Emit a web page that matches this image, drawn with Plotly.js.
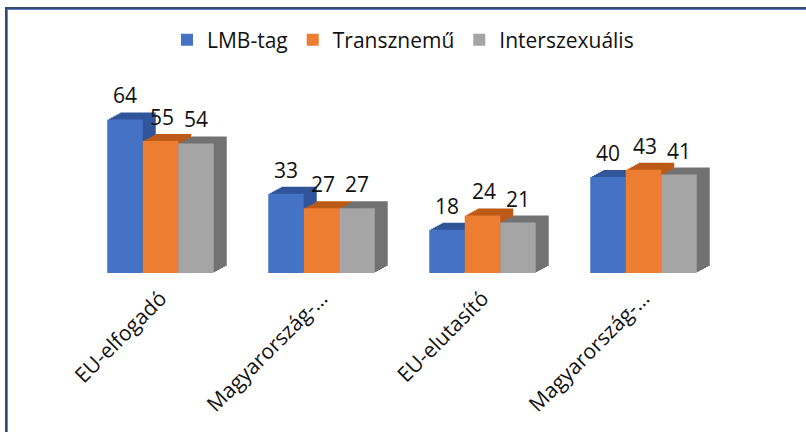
<!DOCTYPE html>
<html>
<head>
<meta charset="utf-8">
<script src="https://cdn.plot.ly/plotly-3.0.1.min.js"></script>
<style>
  html, body { margin: 0; padding: 0; background: #fff; }
  #frame { position: absolute; left: 5px; top: 7px; width: 801px; height: 425px;
           border-top: 2px solid #34496b; border-left: 2px solid #34496b; }
  #inner { position: absolute; left: 0; top: 0; right: 0; bottom: 0;
           border-top: 1px solid #5b86d6; border-left: 1px solid #5b86d6; }
  #chart { position: absolute; left: 0; top: 0; width: 806px; height: 432px; }
</style>
</head>
<body>
<div id="chart"></div>
<div id="frame"><div id="inner"></div></div>
<script>
// ---- data ----
const categories = ["EU-elfogadó", "Magyarország-…", "EU-elutasító", "Magyarország-…"];
const categoryKeys = ["c1", "c2", "c3", "c4"];
const seriesNames = ["LMB-tag", "Transznemű", "Interszexuális"];
const lmbTag = [64, 33, 18, 40];
const transznemu = [55, 27, 24, 43];
const interszexualis = [54, 27, 21, 41];

// ---- styles ----
const seriesValues = [lmbTag, transznemu, interszexualis];
const frontColors = ["#4472C4", "#ED7D31", "#A5A5A5"];
const sideColors = ["#30559a", "#bd5a17", "#727272"];
const fontFam = "'Open Sans', Lato, sans-serif";
const fs = 21;

const W = 806, H = 432;
const mL = 80, mR = 82, mT = 105, mB = 159;
const yMax = 70;
const catPx = (W - mL - mR) / categories.length;
const pxPerUnit = (H - mT - mB) / yMax;
const barW = 35.5 / catPx;
const offsets = [-1.5 * barW, -0.5 * barW, 0.5 * barW];
const depthX = 13, depthY = 7, steps = 7;

const traces = [];
// depth faces (drawn behind front faces)
seriesValues.forEach((vals, s) => {
  for (let k = steps; k >= 1; k--) {
    const dx = (depthX * k / steps) / catPx;
    const dy = (depthY * k / steps) / pxPerUnit;
    traces.push({
      type: "bar", x: categoryKeys, y: vals,
      base: vals.map(() => dy),
      offset: offsets[s] + dx, width: barW,
      marker: { color: sideColors[s], line: { width: 0 } },
      showlegend: false, hoverinfo: "skip"
    });
  }
});
// front faces
seriesValues.forEach((vals, s) => {
  traces.push({
    type: "bar", name: seriesNames[s], x: categoryKeys, y: vals,
    offset: offsets[s], width: barW,
    marker: { color: frontColors[s], line: { width: 0 } }
  });
});

const labelShift = [-35.5, 1, 35.5];
const annotations = [];
seriesValues.forEach((vals, s) => {
  vals.forEach((v, i) => {
    annotations.push({
      x: categoryKeys[i], y: v, text: String(v), showarrow: false,
      xshift: labelShift[s], yshift: 24, yanchor: "middle",
      font: { family: fontFam, size: fs, color: "#111" }
    });
  });
});

const layout = {
  width: W, height: H,
  margin: { l: mL, r: mR, t: mT, b: mB, pad: 0 },
  paper_bgcolor: "#fff", plot_bgcolor: "#fff",
  barmode: "overlay",
  font: { family: fontFam, size: fs, color: "#111" },
  xaxis: {
    type: "category", range: [-0.5, 3.5],
    tickmode: "array", tickvals: categoryKeys, ticktext: categories,
    tickangle: -45, showgrid: false, zeroline: false, showline: false,
    ticks: "", ticklabelstandoff: 8,
    tickfont: { family: fontFam, size: fs, color: "#111" }
  },
  yaxis: { range: [0, yMax], visible: false, showgrid: false, zeroline: false },
  showlegend: true,
  legend: {
    orientation: "h", x: 0.5, xanchor: "center", xref: "container",
    y: 1 - 40 / H, yanchor: "middle", yref: "container",
    font: { family: fontFam, size: fs, color: "#111" },
    itemclick: false, traceorder: "normal"
  },
  annotations: annotations
};

Plotly.newPlot("chart", traces, layout, { staticPlot: true, displayModeBar: false });
</script>
</body>
</html>
